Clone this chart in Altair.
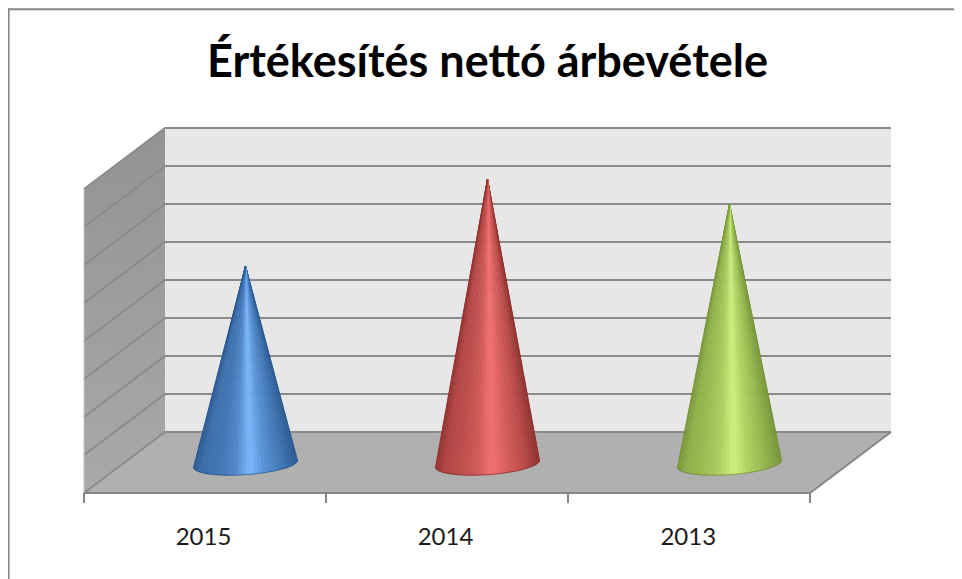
import math
import altair as alt
import pandas as pd

TITLE = "Értékesítés nettó árbevétele"
categories = ["2015", "2014", "2013"]
values = [5.2, 7.49, 6.83]
grid_levels = [0, 1, 2, 3, 4, 5, 6, 7, 8]
tick_positions = [0, 1, 2, 3]
label_positions = [0.494, 1.494, 2.497]

# shading across each cone, from the left silhouette to the right one
shade_stops = [-1.0, -0.85, -0.5, -0.2, 0.08, 0.35, 0.72, 1.0]
shades = {
    "2015": ["#2c5a93", "#3c6fab", "#4177b7", "#5389cb", "#7cb8fc", "#5b94d8", "#4076b3", "#2c5a93"],
    "2014": ["#963433", "#b04543", "#c04f4d", "#d05c5a", "#f27270", "#d8605e", "#b94b49", "#8f3130"],
    "2013": ["#7a9a3c", "#90b04a", "#9cbe54", "#aed062", "#cdf080", "#b0d464", "#92b44c", "#76963a"],
}
rim_colors = {"2015": "#1f4a7d", "2014": "#7a2524", "2013": "#5f7d2b"}

# depth of the box and shape of the cone base, in axis units
DX, DY = 81 / 242, 61 / 38
BASE_A, BASE_TILT, BASE_B = 0.215, 0.092, 0.29
CENTER_DY = DY / 2 - 0.03


def lerp_color(u, stops):
    for i in range(len(shade_stops) - 1):
        if u <= shade_stops[i + 1]:
            t = (u - shade_stops[i]) / (shade_stops[i + 1] - shade_stops[i])
            a, b = stops[i], stops[i + 1]
            ch = [round(int(a[k:k + 2], 16) * (1 - t) + int(b[k:k + 2], 16) * t) for k in (1, 3, 5)]
            return "#%02x%02x%02x" % tuple(ch)
    return stops[-1]


xs = alt.Scale(domain=[0, 3 + DX], nice=False, zero=False)
ys = alt.Scale(domain=[0, 8 + DY], nice=False, zero=False)
X = lambda f="x": alt.X(f"{f}:Q", scale=xs, axis=None, stack=None)
Y = lambda f="y": alt.Y(f"{f}:Q", scale=ys, axis=None, stack=None)

wedge_layers, rims = [], []
N = 40
for c, (cat, val) in enumerate(zip(categories, values)):
    cx = c + 0.5 + DX / 2
    cy = CENTER_DY
    apex = (cx, cy + val)

    def rim(th):
        return (cx + BASE_A * math.cos(th), cy + BASE_TILT * math.cos(th) - BASE_B * math.sin(th))

    for k in range(N + 1):
        p = rim(math.pi * k / N)
        rims.append({"cat": cat, "i": k, "x": p[0], "y": p[1], "c": rim_colors[cat]})
    for k in range(N):
        th0, th1 = math.pi * k / N, math.pi * (k + 1) / N
        pts = sorted([apex, rim(th0), rim(th1)])
        (xa, ya), (xb, yb), (xc, yc) = pts
        ym = ya + (yc - ya) * (xb - xa) / (xc - xa) if xc > xa else yb
        col = lerp_color(math.cos((th0 + th1) / 2), shades[cat])
        df = pd.DataFrame({"x": [xa, xb, xc], "y": [ya, yb, yc], "y2": [ya, ym, yc]})
        wedge_layers.append(
            alt.Chart(df).mark_area(color=col, stroke=col, strokeWidth=0.6).encode(x=X(), y=Y(), y2="y2:Q")
        )

back = alt.Chart(pd.DataFrame([{"x": DX, "x2": 3 + DX, "y": DY, "y2": 8 + DY}])).mark_rect(
    color="#e7e7e7"
).encode(X(), x2="x2:Q", y=Y(), y2="y2:Q")

floor = alt.Chart(pd.DataFrame([
    {"y": 0, "x": 0, "x2": 3},
    {"y": DY, "x": DX, "x2": 3 + DX},
])).mark_area(orient="horizontal", color="#b0b0b0").encode(y=Y(), x=X(), x2="x2:Q")

left_wall = alt.Chart(pd.DataFrame([
    {"x": 0, "y": 0, "y2": 8},
    {"x": DX, "y": DY, "y2": 8 + DY},
])).mark_area(
    color=alt.Gradient(
        gradient="linear",
        stops=[alt.GradientStop(color="#939393", offset=0), alt.GradientStop(color="#a9a9a9", offset=1)],
        x1=0, x2=0, y1=0, y2=1,
    )
).encode(x=X(), y=Y(), y2="y2:Q")

grid_rows = []
for g in grid_levels:
    grid_rows += [
        {"g": g, "i": 0, "x": 0, "y": g},
        {"g": g, "i": 1, "x": DX, "y": g + DY},
        {"g": g, "i": 2, "x": 3 + DX, "y": g + DY},
    ]
grid = alt.Chart(pd.DataFrame(grid_rows)).mark_line(color="#8a8a8a", strokeWidth=1.8).encode(
    x=X(), y=Y(), detail="g:N", order="i:Q"
)

edge_rows = [
    {"e": "a", "i": 0, "x": 0, "y": 0}, {"e": "a", "i": 1, "x": 3, "y": 0},
    {"e": "a", "i": 2, "x": 3 + DX, "y": DY},
]
edges = alt.Chart(pd.DataFrame(edge_rows)).mark_line(color="#868686", strokeWidth=2).encode(
    x=X(), y=Y(), detail="e:N", order="i:Q"
)

wall_edge = alt.Chart(pd.DataFrame([{"x": 0, "y": 0, "y2": 8}])).mark_rule(color="#c4c4c4", strokeWidth=1).encode(
    x=X(), y=Y(), y2="y2:Q"
)

ticks = alt.Chart(pd.DataFrame({"x": tick_positions})).mark_rule(color="#868686", strokeWidth=2).encode(
    x=X(), y=alt.value(365), y2=alt.value(375)
)

rim_lines = alt.Chart(pd.DataFrame(rims)).mark_line(strokeWidth=1, opacity=0.65).encode(
    x=X(), y=Y(), detail="cat:N", order="i:Q", color=alt.Color("c:N", scale=None)
)

labels = alt.Chart(pd.DataFrame({"x": label_positions, "t": categories})).mark_text(
    font="Lato", fontSize=24, color="#1a1a1a", baseline="alphabetic", align="center"
).encode(x=X(), y=alt.value(417), text="t:N")

frame_left = alt.Chart(pd.DataFrame({"a": [0]})).mark_rule(color="#868686", strokeWidth=2).encode(
    x=alt.value(-75.4), y=alt.value(-119.7), y2=alt.value(451)
)
frame_top = alt.Chart(pd.DataFrame({"a": [0]})).mark_rule(color="#868686", strokeWidth=2).encode(
    x=alt.value(-76), x2=alt.value(870), y=alt.value(-118.7)
)

chart = alt.layer(
    frame_left, frame_top, back, floor, left_wall, grid, wall_edge, edges, ticks,
    *wedge_layers, rim_lines, labels
).properties(
    width=807,
    height=365,
    padding={"left": 76, "top": 120, "right": 63, "bottom": 86},
    autosize=alt.AutoSizeParams(type="none"),
    background="white",
    title=alt.TitleParams(
        TITLE, font="Lato", fontSize=45, fontWeight="bold", color="#000000", offset=-79
    ),
).configure_view(stroke=None)

chart.save("out.html", embed_options={"renderer": "svg", "actions": False})
